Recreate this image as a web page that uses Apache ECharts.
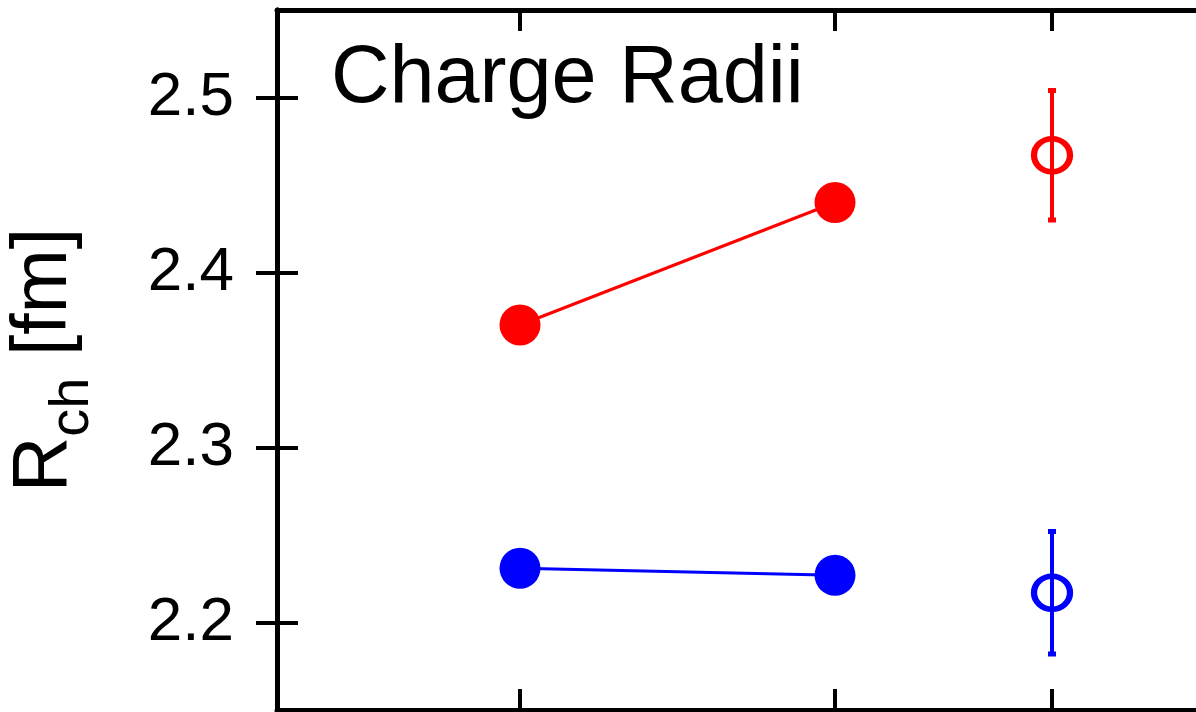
<!DOCTYPE html>
<html>
<head>
<meta charset="utf-8">
<script src="https://cdn.jsdelivr.net/npm/echarts@6/dist/echarts.min.js"></script>
<style>html,body{margin:0;padding:0;background:#fff;}#c{width:1196px;height:712px;}</style>
</head>
<body>
<div id="c"></div>
<script>
// x positions (arbitrary units, no labels shown)
var xPos = [2.43, 5.58, 7.75];
var yTicks = [2.2, 2.3, 2.4, 2.5];
// filled points (theory) connected by lines
var redLine = [2.370, 2.440];
var blueLine = [2.231, 2.227];
// open points with error bars (experiment)
var redExp = 2.467, redErr = 0.037;
var blueExp = 2.217, blueErr = 0.035;

var FONT = '"Liberation Sans", Arial, Helvetica, sans-serif';
var chart = echarts.init(document.getElementById('c'));

function errBar(color) {
  return function (params, api) {
    var x = api.value(0), y = api.value(1), e = api.value(2);
    var top = api.coord([x, y + e]);
    var bot = api.coord([x, y - e]);
    var cap = 4;
    var st = {stroke: color, lineWidth: 4};
    return {
      type: 'group',
      children: [
        {type: 'line', shape: {x1: top[0], y1: top[1], x2: bot[0], y2: bot[1]}, style: st},
        {type: 'line', shape: {x1: top[0] - cap, y1: top[1], x2: top[0] + cap, y2: top[1]}, style: {stroke: color, lineWidth: 5}},
        {type: 'line', shape: {x1: bot[0] - cap, y1: bot[1], x2: bot[0] + cap, y2: bot[1]}, style: {stroke: color, lineWidth: 5}}
      ]
    };
  };
}

var axisLine = {show: true, lineStyle: {color: '#000', width: 5}};
var tick = {show: true, inside: true, length: 21, lineStyle: {color: '#000', width: 4}};

chart.setOption({
  backgroundColor: '#fff',
  animation: false,
  title: {
    text: 'Charge Radii', left: 326, top: 34,
    textStyle: {fontFamily: FONT, fontSize: 81, fontWeight: 'normal', color: '#000'}
  },
  grid: {left: 277, top: 10, width: 925, height: 700, outerBoundsMode: 'none', containLabel: false},
  xAxis: [
    {type: 'value', min: 0, max: 9.25, position: 'bottom',
      axisLine: axisLine, splitLine: {show: false}, axisLabel: {show: false},
      axisTick: Object.assign({customValues: xPos}, tick)},
    {type: 'value', min: 0, max: 9.25, position: 'top',
      axisLine: axisLine, splitLine: {show: false}, axisLabel: {show: false},
      axisTick: Object.assign({customValues: xPos}, tick)}
  ],
  yAxis: [
    {type: 'value', min: 2.15, max: 2.55, position: 'left',
      axisLine: axisLine, splitLine: {show: false},
      axisTick: Object.assign({customValues: yTicks}, tick),
      axisLabel: {customValues: yTicks, margin: 43, fontFamily: FONT, fontSize: 62, color: '#000',
        formatter: function (v) { return v.toFixed(1); }},
      name: '{r|R}{s|ch}{r| [fm]}', nameLocation: 'middle', nameGap: 176, nameMoveOverlap: false,
      nameTextStyle: {
        fontFamily: FONT, color: '#000',
        rich: {
          r: {fontFamily: FONT, fontSize: 77, color: '#000', lineHeight: 112, verticalAlign: 'middle'},
          s: {fontFamily: FONT, fontSize: 56, color: '#000', lineHeight: 60, verticalAlign: 'bottom'}
        }
      }},
    {type: 'value', min: 2.15, max: 2.55, position: 'right',
      axisLine: axisLine, splitLine: {show: false}, axisLabel: {show: false},
      axisTick: Object.assign({customValues: yTicks}, tick)}
  ],
  series: [
    {type: 'line', data: [[xPos[0], redLine[0]], [xPos[1], redLine[1]]],
      symbol: 'circle', symbolSize: 41, lineStyle: {color: '#ff0000', width: 3},
      itemStyle: {color: '#ff0000', opacity: 1}, z: 3},
    {type: 'line', data: [[xPos[0], blueLine[0]], [xPos[1], blueLine[1]]],
      symbol: 'circle', symbolSize: 41, lineStyle: {color: '#0000ff', width: 3},
      itemStyle: {color: '#0000ff', opacity: 1}, z: 3},
    {type: 'custom', renderItem: errBar('#ff0000'), data: [[xPos[2], redExp, redErr]], z: 2},
    {type: 'custom', renderItem: errBar('#0000ff'), data: [[xPos[2], blueExp, blueErr]], z: 2},
    {type: 'scatter', data: [[xPos[2], redExp]], symbol: 'circle', symbolSize: [36, 33],
      itemStyle: {color: 'rgba(0,0,0,0)', borderColor: '#ff0000', borderWidth: 6, opacity: 1}, z: 4},
    {type: 'scatter', data: [[xPos[2], blueExp]], symbol: 'circle', symbolSize: [36, 33],
      itemStyle: {color: 'rgba(0,0,0,0)', borderColor: '#0000ff', borderWidth: 6, opacity: 1}, z: 4}
  ]
});
</script>
</body>
</html>
